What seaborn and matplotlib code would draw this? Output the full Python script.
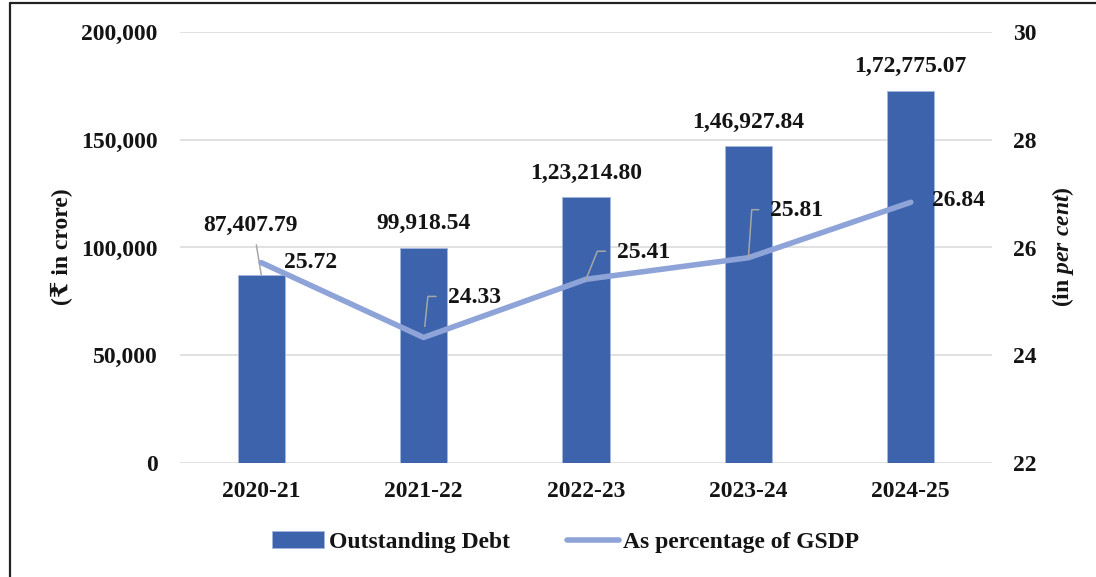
import numpy as np
import matplotlib
matplotlib.use("Agg")
import matplotlib.pyplot as plt
from matplotlib.lines import Line2D
import seaborn as sns

# chart data
years = ["2020-21", "2021-22", "2022-23", "2023-24", "2024-25"]
debt = [87407.79, 99918.54, 123214.80, 146927.84, 172775.07]
debt_labels = ["87,407.79", "99,918.54", "1,23,214.80", "1,46,927.84", "1,72,775.07"]
pct = [25.72, 24.33, 25.41, 25.81, 26.84]
left_ticks = [0, 50000, 100000, 150000, 200000]
right_ticks = [22, 24, 26, 28, 30]

bar_color = "#3C63AC"
line_color = "#8EA4D8"
lead_color = "#A6A6A6"
txt = "#141414"
fs = 17

sns.set_theme(style="white")
plt.rcParams["font.family"] = ["Liberation Serif", "DejaVu Serif"]
plt.rcParams["font.weight"] = "bold"
plt.rcParams["text.color"] = txt
plt.rcParams["mathtext.fontset"] = "custom"
plt.rcParams["mathtext.rm"] = "Liberation Serif:bold"
plt.rcParams["mathtext.it"] = "Liberation Serif:italic:bold"

fig = plt.figure(figsize=(10.96, 5.77), dpi=100)
ax = fig.add_axes([180 / 1096, 1 - 463 / 577, 812 / 1096, 431 / 577])

# bars
sns.barplot(x=years, y=debt, ax=ax, color=bar_color, width=0.29,
            edgecolor="#A4B6DF", linewidth=0.6, saturation=1)
ax.set_ylim(0, 200000)
ax.set_yticks(left_ticks)
ax.set_yticklabels([f"{v:,}" for v in left_ticks])
ax.set_xlim(-0.5, 4.5)
ax.set_axisbelow(True)
ax.yaxis.grid(True, color="#D9D9D9", linewidth=1.1)
ax.xaxis.grid(False)
ax.set_xlabel("")
ax.set_ylabel("")
for s in ax.spines.values():
    s.set_visible(False)
ax.tick_params(axis="y", length=0, pad=16, labelsize=fs, labelcolor=txt)
ax.tick_params(axis="x", length=0, pad=13, labelsize=fs, labelcolor=txt)

# line on second axis
ax2 = ax.twinx()
sns.lineplot(x=np.arange(len(years)), y=pct, ax=ax2, color=line_color,
             linewidth=4, solid_capstyle="round")
ax2.set_ylim(22, 30)
ax2.set_yticks(right_ticks)
ax2.set_xlim(-0.5, 4.5)
ax2.grid(False)
ax2.set_ylabel("")
for s in ax2.spines.values():
    s.set_visible(False)
ax2.tick_params(axis="y", length=0, pad=15, labelsize=fs, labelcolor=txt)

# debt labels above bars
for i, (v, lab) in enumerate(zip(debt, debt_labels)):
    if i == 0:
        ax.annotate(lab, xy=(i, v), xytext=(-11, 49), textcoords="offset pixels",
                    ha="center", va="center", fontsize=fs, fontweight="bold",
                    arrowprops=dict(arrowstyle="-", color=lead_color, lw=1.1,
                                    relpos=(0.55, 0), shrinkA=4, shrinkB=0))
    else:
        ax.annotate(lab, xy=(i, v), xytext=(0, 24), textcoords="offset pixels",
                    ha="center", va="center", fontsize=fs, fontweight="bold")

# percentage labels
offsets = [(23, 0), (24, 40), (31, 27), (22, 47), (21, 2)]
angles = [None, 84, 68, 86, None]
end_gap = [0, 8, 0, 0, 0]
for i, (p, (dx, dy), ang, gap) in enumerate(zip(pct, offsets, angles, end_gap)):
    if ang is None:
        ax2.annotate(f"{p:.2f}", xy=(i, p), xytext=(dx, dy), textcoords="offset pixels",
                     ha="left", va="center", fontsize=fs, fontweight="bold")
    else:
        ax2.annotate(f"{p:.2f}", xy=(i, p), xytext=(dx, dy), textcoords="offset pixels",
                     ha="left", va="center", fontsize=fs, fontweight="bold",
                     arrowprops=dict(arrowstyle="-", color=lead_color, lw=1.1,
                                     connectionstyle=f"angle,angleA=180,angleB={ang},rad=0",
                                     relpos=(0, 0.55), shrinkA=6, shrinkB=gap))

# axis titles
fig.text(62 / 1096, 1 - 247 / 577, "(₹ in crore)", rotation=90, ha="center", va="center",
         fontsize=fs, fontweight="bold")
fig.text(1063 / 1096, 1 - 247 / 577, r"(in $\mathit{per\ cent}$)", rotation=90,
         ha="center", va="center", fontsize=fs, fontweight="bold")

# legend
handles = [ax.patches[0], ax2.lines[0]]
fig.legend(handles, ["Outstanding Debt", "As percentage of GSDP"], loc="center",
           bbox_to_anchor=(566 / 1096, 1 - 542 / 577), ncol=2, frameon=False,
           fontsize=fs, handlelength=2.2, handletextpad=0.2, columnspacing=2.4)

# outer frame (top and left edges visible)
fig.add_artist(Line2D([9.5 / 1096, 9.5 / 1096], [0, 1 - 3 / 577], transform=fig.transFigure,
                      color="#222222", lw=1.6))
fig.add_artist(Line2D([9.5 / 1096, 1], [1 - 3 / 577, 1 - 3 / 577], transform=fig.transFigure,
                      color="#222222", lw=1.6))

fig.savefig("out.png", dpi=100)
